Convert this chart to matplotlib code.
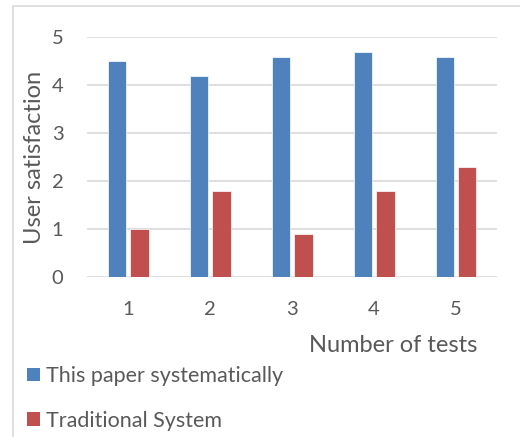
import matplotlib
matplotlib.use("Agg")
import matplotlib.pyplot as plt
import numpy as np
from matplotlib.patches import Patch, Rectangle

categories = ["1", "2", "3", "4", "5"]
this_paper = [4.5, 4.2, 4.6, 4.7, 4.6]
traditional = [1.0, 1.8, 0.9, 1.8, 2.3]
series_names = ["This paper systematically", "Traditional System"]
yticks = [0, 1, 2, 3, 4, 5]

plt.rcParams['font.family'] = ['Lato', 'DejaVu Sans']
txt = '#595959'
blue = '#4F81BD'
red = '#C0504D'

W, H = 520, 437
fig = plt.figure(figsize=(W/100, H/100), dpi=100)

# frame border
fig.add_artist(Rectangle((13/W, -0.1), 1.2, (437-6)/H + 0.1, transform=fig.transFigure,
                         fill=False, edgecolor='#D9D9D9', linewidth=1.2))

ax = fig.add_axes([87/W, (H-277.3)/H, 410/W, 240/H])
x = np.arange(len(categories))
bw = 0.22
ax.bar(x - 0.14, this_paper, bw, color=blue, edgecolor='white', linewidth=0.5, zorder=3)
ax.bar(x + 0.14, traditional, bw, color=red, edgecolor='white', linewidth=0.5, zorder=3)
ax.set_xlim(-0.5, len(categories) - 0.5)
ax.set_ylim(0, 5)
ax.set_yticks(yticks)
ax.set_xticks(x)
ax.set_xticklabels(categories)
ax.yaxis.grid(True, color='#D9D9D9', linewidth=1.2, zorder=0)
for s in ax.spines.values():
    s.set_visible(False)
ax.tick_params(length=0, labelsize=14.5, colors=txt)
ax.tick_params(axis='y', pad=17)
ax.tick_params(axis='x', pad=17)

fig.text(35/W, 1 - 157/H, "User satisfaction", rotation=90, ha='center', va='center',
         fontsize=17, color=txt)
fig.text(477/W, 1 - 346/H, "Number of tests", ha='right', va='center',
         fontsize=17, color=txt)

handles = [Patch(facecolor=blue), Patch(facecolor=red)]
fig.legend(handles, series_names, loc='center left', bbox_to_anchor=(27/W, 1 - 398.5/H),
           frameon=False, fontsize=15.5, labelcolor=txt, handlelength=0.6, handleheight=0.6,
           handletextpad=0.3, labelspacing=1.15, borderaxespad=0, borderpad=0)

fig.savefig("out.png", dpi=100)
